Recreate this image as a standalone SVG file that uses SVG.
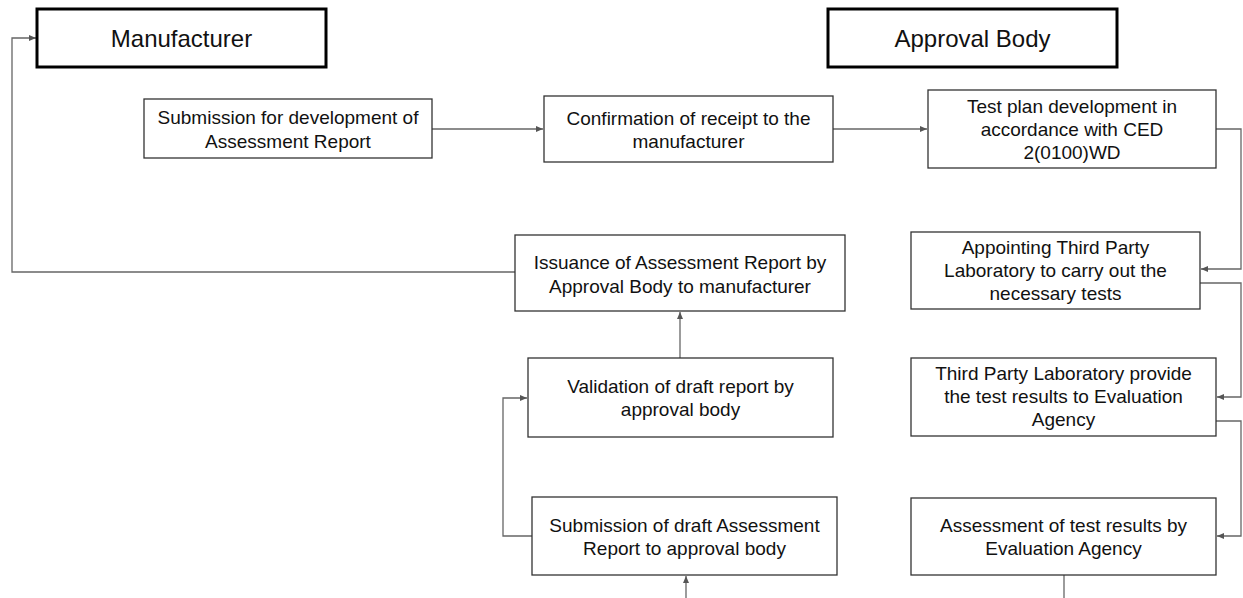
<svg xmlns="http://www.w3.org/2000/svg" width="1243" height="598" viewBox="0 0 1243 598">
<style>
.hdr{fill:#fff;stroke:#000;stroke-width:3}
.box{fill:#fff;stroke:#333;stroke-width:1.3}
.ht{font-family:"Liberation Sans",Arial,sans-serif;font-size:24px;fill:#111;text-anchor:middle}
.t{font-family:"Liberation Sans",Arial,sans-serif;font-size:19px;fill:#111;text-anchor:middle}
.c{fill:none;stroke:#666;stroke-width:1.3}
</style>
<defs>
<marker id="ah" markerUnits="userSpaceOnUse" markerWidth="8" markerHeight="8" viewBox="0 0 8 8" refX="7" refY="4" orient="auto">
<path d="M0,1 L7,4 L0,7 Z" fill="#555"/>
</marker>
</defs>
<rect width="1243" height="598" fill="#fff"/>
<g id="connectors">
<path class="c" d="M515,272 H12 V38 H36" marker-end="url(#ah)"/>
<path class="c" d="M432,129 H543" marker-end="url(#ah)"/>
<path class="c" d="M833,129 H927" marker-end="url(#ah)"/>
<path class="c" d="M1216,129 H1241 V269 H1201" marker-end="url(#ah)"/>
<path class="c" d="M1200,283 H1241 V397 H1217" marker-end="url(#ah)"/>
<path class="c" d="M1216,421 H1241 V536 H1217" marker-end="url(#ah)"/>
<path class="c" d="M1064,575 V598"/>
<path class="c" d="M686,598 V576" marker-end="url(#ah)"/>
<path class="c" d="M532,536 H503 V398 H527" marker-end="url(#ah)"/>
<path class="c" d="M680,358 V312" marker-end="url(#ah)"/>
</g>
<g id="manufacturer">
<rect class="hdr" x="37" y="9" width="289" height="58"/>
<text class="ht" x="181.5" y="47">Manufacturer</text>
</g>
<g id="approval-body">
<rect class="hdr" x="828" y="9" width="289" height="58"/>
<text class="ht" x="972.5" y="47">Approval Body</text>
</g>
<g id="submission">
<rect class="box" x="144" y="99" width="288" height="59"/>
<text class="t" x="288" y="124">Submission for development of</text>
<text class="t" x="288" y="148">Assessment Report</text>
</g>
<g id="confirmation">
<rect class="box" x="544" y="96" width="289" height="66"/>
<text class="t" x="688.5" y="125">Confirmation of receipt to the</text>
<text class="t" x="688.5" y="148">manufacturer</text>
</g>
<g id="test-plan">
<rect class="box" x="928" y="90" width="288" height="78"/>
<text class="t" x="1072" y="113">Test plan development in</text>
<text class="t" x="1072" y="136">accordance with CED</text>
<text class="t" x="1072" y="159">2(0100)WD</text>
</g>
<g id="appointing">
<rect class="box" x="911" y="232" width="289" height="77"/>
<text class="t" x="1055.5" y="254">Appointing Third Party</text>
<text class="t" x="1055.5" y="277">Laboratory to carry out the</text>
<text class="t" x="1055.5" y="300">necessary tests</text>
</g>
<g id="third-party">
<rect class="box" x="911" y="358" width="305" height="78"/>
<text class="t" x="1063.5" y="380">Third Party Laboratory provide</text>
<text class="t" x="1063.5" y="403">the test results to Evaluation</text>
<text class="t" x="1063.5" y="426">Agency</text>
</g>
<g id="assessment">
<rect class="box" x="911" y="498" width="305" height="77"/>
<text class="t" x="1063.5" y="532">Assessment of test results by</text>
<text class="t" x="1063.5" y="555">Evaluation Agency</text>
</g>
<g id="issuance">
<rect class="box" x="515" y="235" width="330" height="76"/>
<text class="t" x="680" y="269">Issuance of Assessment Report by</text>
<text class="t" x="680" y="293">Approval Body to manufacturer</text>
</g>
<g id="validation">
<rect class="box" x="528" y="358" width="305" height="79"/>
<text class="t" x="680.5" y="393">Validation of draft report by</text>
<text class="t" x="680.5" y="416">approval body</text>
</g>
<g id="draft-submission">
<rect class="box" x="532" y="497" width="305" height="78"/>
<text class="t" x="684.5" y="532">Submission of draft Assessment</text>
<text class="t" x="684.5" y="555">Report to approval body</text>
</g>
</svg>
